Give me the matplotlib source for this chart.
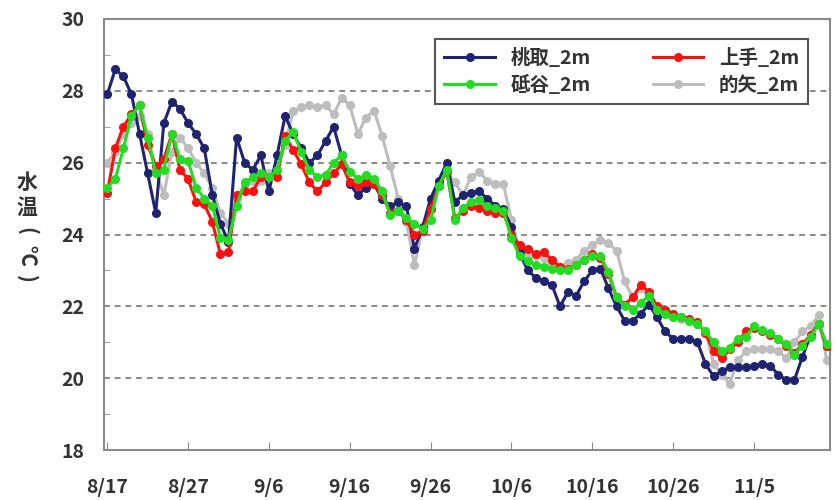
import matplotlib
matplotlib.use("Agg")
import matplotlib.pyplot as plt
from matplotlib.ticker import MultipleLocator

plt.rcParams['font.family'] = ['Noto Sans CJK JP', 'DejaVu Sans']

# days since 8/17 (one reading per day)
days = list(range(90))
tick_days = [0, 10, 20, 30, 40, 50, 60, 70, 80]
tick_labels = ["8/17", "8/27", "9/6", "9/16", "9/26", "10/6", "10/16", "10/26", "11/5"]

toshi = [27.9, 28.6, 28.4, 27.9, 26.8, 25.7, 24.6, 27.1, 27.7, 27.5,
         27.1, 26.8, 26.4, 25.1, 24.3, 23.8, 26.7, 26.0, 25.8, 26.2,
         25.2, 26.2, 27.3, 26.8, 26.4, 26.0, 26.2, 26.6, 27.0, 26.2,
         25.4, 25.1, 25.3, 25.4, 25.0, 24.8, 24.9, 24.8, 23.6, 24.2,
         25.0, 25.5, 26.0, 24.9, 25.1, 25.15, 25.2, 25.0, 24.8, 24.7,
         24.2, 23.5, 23.0, 22.8, 22.7, 22.6, 22.0, 22.4, 22.3, 22.7,
         23.0, 23.05, 22.5, 22.0, 21.6, 21.6, 21.8, 22.05, 21.7, 21.3,
         21.1, 21.1, 21.1, 21.0, 20.4, 20.05, 20.2, 20.3, 20.3, 20.3,
         20.35, 20.4, 20.35, 20.1, 19.95, 19.95, 20.6, 21.2, 21.5, 20.9]

kamite = [25.15, 26.4, 27.0, 27.35, 27.6, 26.5, 25.9, 26.1, 26.8, 25.8,
          25.55, 24.9, 24.85, 24.35, 23.45, 23.5, 25.1, 25.2, 25.2, 25.6,
          25.6, 25.6, 26.75, 26.35, 25.95, 25.45, 25.2, 25.45, 25.7, 25.95,
          25.45, 25.35, 25.45, 25.4, 25.1, 24.6, 24.65, 24.4, 24.0, 24.1,
          24.7, 25.35, 25.75, 24.45, 24.65, 24.8, 24.75, 24.65, 24.6, 24.6,
          24.0, 23.7, 23.6, 23.45, 23.5, 23.3, 23.1, 23.05, 23.15, 23.3,
          23.45, 23.35, 22.9, 22.25, 22.05, 22.25, 22.6, 22.4, 22.0, 21.9,
          21.8, 21.7, 21.65, 21.55, 21.25, 20.75, 20.55, 20.8, 21.0, 21.3,
          21.4, 21.3, 21.2, 21.1, 20.9, 20.7, 20.95, 21.2, 21.5, 20.9]

todani = [25.3, 25.55, 26.4, 27.3, 27.6, 26.7, 25.7, 25.8, 26.8, 26.1,
          26.05, 25.3, 25.0, 24.8, 23.9, 23.85, 24.8, 25.45, 25.6, 25.7,
          25.6, 25.8, 26.6, 26.85, 26.3, 25.8, 25.6, 25.65, 26.0, 26.2,
          25.75, 25.55, 25.65, 25.55, 25.2, 24.55, 24.65, 24.45, 24.3, 24.15,
          24.4, 25.35, 25.8, 24.4, 24.75, 24.9, 24.95, 24.8, 24.75, 24.65,
          23.9, 23.4, 23.25, 23.15, 23.1, 23.05, 23.0, 23.0, 23.15, 23.3,
          23.4, 23.4, 22.95, 22.25, 22.0, 21.9, 22.1, 22.3, 21.9, 21.8,
          21.7, 21.7, 21.6, 21.5, 21.3, 21.0, 20.75, 20.85, 21.1, 21.15,
          21.45, 21.35, 21.25, 21.1, 20.95, 20.65, 20.9, 21.15, 21.5, 20.95]

matoya = [26.0, 26.3, 26.8, 27.1, 27.3, 26.8, 25.8, 25.1, 26.3, 26.7,
          26.4, 26.0, 25.7, 25.3, 24.6, 24.3, 25.0, 25.4, 25.5, 25.5,
          25.7, 25.8, 26.5, 27.45, 27.55, 27.6, 27.55, 27.6, 27.35, 27.8,
          27.6, 26.8, 27.25, 27.45, 26.75, 25.9, 25.0, 24.35, 23.15, 24.15,
          25.0, 25.4, 25.75, 25.45, 25.1, 25.6, 25.75, 25.5, 25.4, 25.4,
          24.4, 23.55, 23.4, 23.4, 23.35, 23.15, 23.1, 23.2, 23.3, 23.55,
          23.7, 23.85, 23.75, 23.55, 22.7, 22.25, 22.5, 22.25, 21.9, 21.8,
          21.7, 21.65, 21.6, 21.5, 21.3, 20.4, 20.1, 19.85, 20.5, 20.75,
          20.8, 20.8, 20.8, 20.75, 20.55, 21.0, 21.3, 21.45, 21.75, 20.5]

fig = plt.figure(figsize=(8.36, 5.0), dpi=100)
ax = fig.add_axes([0.1244, 0.10, 0.8684, 0.862])

style = dict(marker="o", markersize=5.5, linewidth=2.2)
ax.plot(days, matoya, color="#bdbdbd", label="的矢_2m", zorder=2, **style)
ax.plot(days, toshi, color="#1f2470", label="桃取_2m", zorder=3, **style)
ax.plot(days, kamite, color="#ff1010", label="上手_2m", zorder=4, **style)
ax.plot(days, todani, color="#22dd22", label="砥谷_2m", zorder=5, **style)

ax.set_xlim(-0.4, 89.4)
ax.set_ylim(18, 30)
ax.yaxis.set_major_locator(MultipleLocator(2))
ax.yaxis.set_minor_locator(MultipleLocator(1))
ax.set_xticks(tick_days)
ax.set_xticklabels(tick_labels)

for y in [20, 22, 24, 26, 28]:
    ax.axhline(y, color="#8a8a8a", linestyle=(0, (3, 2.5)), linewidth=1.4, zorder=1)

for s in ax.spines.values():
    s.set_color("#8a8a8a")
    s.set_linewidth(1.5)

ax.tick_params(axis="both", which="both", direction="in", colors="#8a8a8a",
               labelcolor="#333333", labelsize=14)
ax.tick_params(axis="y", which="major", length=0, pad=14)
ax.tick_params(axis="y", which="minor", length=4)
ax.tick_params(axis="x", which="major", length=6, pad=20)
for lab in ax.get_xticklabels() + ax.get_yticklabels():
    lab.set_fontweight("bold")

# vertical axis title: 水温(℃)
lbl = dict(fontsize=15, fontweight="bold", color="#333333", ha="center", va="center")
fig.text(0.032, 0.636, "水", **lbl)
fig.text(0.032, 0.586, "温", **lbl)
fig.text(0.032, 0.538, "(", rotation=-90, **lbl)
fig.text(0.032, 0.490, "℃", rotation=-90, **lbl)
fig.text(0.032, 0.442, ")", rotation=-90, **lbl)

h, l = ax.get_legend_handles_labels()
order = [1, 3, 2, 0]
leg = ax.legend([h[i] for i in order], [l[i] for i in order], ncol=2,
                loc="upper right", bbox_to_anchor=(0.983, 0.975),
                fancybox=False, framealpha=1, edgecolor="#555555",
                prop={"size": 14, "weight": "bold"}, handlelength=2.6,
                columnspacing=3.2, borderpad=0.45, labelspacing=0.35)
leg.get_frame().set_linewidth(1.5)
for t in leg.get_texts():
    t.set_color("#333333")

fig.savefig("out.png", dpi=100)
